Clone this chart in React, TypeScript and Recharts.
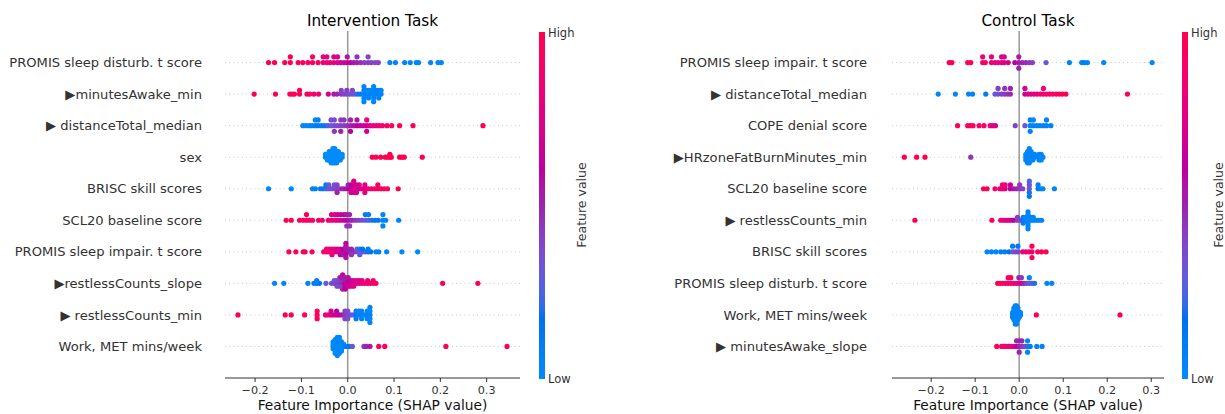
import React from 'react';
import { ScatterChart, Scatter, XAxis, YAxis, ReferenceLine } from 'recharts';

const FONT = '"DejaVu Sans", Verdana, sans-serif';

// ---------- labels ----------
const intFeatures = [
  'PROMIS sleep disturb. t score',
  '\u25B6minutesAwake_min',
  '\u25B6 distanceTotal_median',
  'sex',
  'BRISC skill scores',
  'SCL20 baseline score',
  'PROMIS sleep impair. t score',
  '\u25B6restlessCounts_slope',
  '\u25B6 restlessCounts_min',
  'Work, MET mins/week',
];
const ctlFeatures = [
  'PROMIS sleep impair. t score',
  '\u25B6 distanceTotal_median',
  'COPE denial score',
  '\u25B6HRzoneFatBurnMinutes_min',
  'SCL20 baseline score',
  '\u25B6 restlessCounts_min',
  'BRISC skill scores',
  'PROMIS sleep disturb. t score',
  'Work, MET mins/week',
  '\u25B6 minutesAwake_slope',
];
const xTicks = [-0.2, -0.1, 0, 0.1, 0.2, 0.3];
const intDomain = [-0.265, 0.372];
const ctlDomain = [-0.289, 0.329];

// ---------- data: [shap value, feature value (0 low .. 1 high), count?] ----------
const intPromisDisturb = [
  [-0.171,1],[-0.158,1],[-0.136,0.97],[-0.124,0.95],[-0.107,0.95],[-0.097,0.92],[-0.086,0.93],[-0.076,0.9],[-0.064,0.9],[-0.053,0.85],[-0.045,0.82],[-0.038,0.8],[-0.030,0.78],[-0.022,0.72],[-0.015,0.7],[-0.008,0.68],[-0.001,0.62],[0.006,0.6],[0.013,0.55],[0.020,0.52],[0.028,0.48],[0.036,0.42],[0.044,0.42],[0.051,0.4],[0.059,0.38],[0.066,0.4],[0.091,0.03],[0.103,0.03],[0.123,0.03],[0.135,0.03],[0.148,0.03],[0.153,0.02],[0.179,0.02],[0.195,0.02],[0.202,0.02],
  [-0.124,1],[-0.076,0.95],[-0.053,0.8],[-0.045,0.78],[-0.030,0.75],[-0.022,0.75],[-0.001,0.55],[0.020,0.45],[0.044,0.4],
];
const intMinutesAwakeMin = [
  [-0.202,1],[-0.156,1],[-0.125,0.97],[-0.120,0.95],[-0.115,0.95],[-0.104,0.95],[-0.088,0.9],[-0.082,0.9],[-0.073,0.88],[-0.063,0.85],[-0.042,0.7],[-0.030,0.55],[-0.023,0.5],[-0.014,0.45],[-0.008,0.4],[-0.002,0.38],[0.004,0.35],[0.010,0.35],[0.016,0.3],[0.022,0.2],[0.028,0.1],[0.035,0.05],[0.040,0.05],[0.045,0.05],[0.050,0.05],[0.056,0.05],[0.061,0.05],[0.067,0.05],[0.072,0.05],
  [-0.104,1],[-0.014,0.4],[-0.002,0.42],[0.010,0.38],
  [0.035,0.03,4],[0.045,0.05,2],[0.056,0.03,4],[0.067,0.05,2],[0.040,0.05],[0.050,0.03],[0.061,0.05],[0.072,0.05],
];
const intDistance = [
  [-0.097,0.02],[-0.090,0.03],[-0.083,0.05],[-0.077,0.05],[-0.070,0.08],[-0.064,0.1],[-0.057,0.1],[-0.050,0.12],[-0.043,0.25],[-0.036,0.3],[-0.029,0.35],[-0.022,0.38],[-0.015,0.4],[-0.008,0.42],[-0.001,0.45],[0.006,0.5],[0.013,0.55],[0.020,0.6],[0.027,0.62],[0.034,0.65],[0.041,0.7],[0.048,0.75],[0.055,0.78],[0.062,0.8],[0.068,0.82],[0.075,0.9],[0.085,0.92],[0.095,0.95],[0.112,0.97],[0.141,1],[0.292,1],
  [-0.070,0.05],[-0.064,0.08],[-0.036,0.35],[-0.029,0.38],[-0.015,0.42],[-0.008,0.45],[0.006,0.5],[0.020,0.55],[0.041,0.85],
  [-0.029,0.45],[-0.015,0.5],[0.006,0.6],[0.041,0.7],
];
const intSex = [
  [-0.048,0,2],[-0.044,0,3],[-0.040,0,4],[-0.036,0,5],[-0.032,0,6],[-0.028,0,6],[-0.024,0,5],[-0.020,0,4],[-0.016,0,3],[-0.012,0,2],
  [0.053,1],[0.061,1],[0.071,1],[0.081,1],[0.086,1],[0.091,1],[0.094,1],[0.112,1],[0.117,1],[0.122,1],[0.161,1],[0.091,1],
];
const intBrisc = [
  [-0.171,0.02],[-0.122,0.02],[-0.076,0.05],[-0.070,0.08],[-0.059,0.1],[-0.053,0.12],[-0.047,0.25],[-0.041,0.3],[-0.035,0.35],[-0.029,0.4],[-0.023,0.42],[-0.017,0.45],[-0.011,0.5],[-0.005,0.55],[0.001,0.6],[0.007,0.65],[0.013,0.7],[0.019,0.7],[0.025,0.72],[0.031,0.75],[0.037,0.78],[0.044,0.85],[0.051,0.88],[0.058,0.9],[0.065,0.9],[0.072,0.92],[0.079,0.95],[0.086,0.95],[0.109,1],
  [-0.047,0.15],[-0.041,0.3],[-0.029,0.35],[-0.023,0.4],[0.001,0.5],[0.007,0.6],[0.013,0.65],[0.019,0.7],[0.025,0.75],[0.037,0.75],[0.065,0.9],
  [-0.023,0.5],[0.007,0.7],[0.013,0.7],[0.019,0.7],[0.037,0.75],[0.013,0.75],
];
const intScl20 = [
  [-0.133,1],[-0.122,1],[-0.104,0.97],[-0.096,0.95],[-0.089,0.95],[-0.082,0.93],[-0.076,0.92],[-0.063,0.9],[-0.055,0.88],[-0.042,0.85],[-0.035,0.82],[-0.028,0.8],[-0.022,0.75],[-0.015,0.7],[-0.008,0.65],[-0.002,0.6],[0.004,0.55],[0.010,0.5],[0.017,0.45],[0.024,0.4],[0.031,0.35],[0.038,0.3],[0.045,0.25],[0.052,0.2],[0.059,0.15],[0.066,0.12],[0.076,0.05],[0.082,0.05],[0.110,0.03],
  [-0.089,1],[-0.035,0.75],[-0.028,0.72],[-0.022,0.7],[-0.015,0.65],[-0.008,0.6],[-0.002,0.55],[0.004,0.5],[0.038,0.1],[0.045,0.08],[0.076,0.05],
  [-0.002,0.45],[0.004,0.45],[0.076,0.05],
];
const intPromisImpair = [
  [-0.127,1],[-0.112,1],[-0.096,0.97],[-0.092,0.95],[-0.077,0.95],[-0.052,0.9],[-0.046,0.88],[-0.040,0.85],[-0.034,0.82],[-0.028,0.8],[-0.022,0.75],[-0.016,0.7],[-0.010,0.65],[-0.004,0.6],[0.002,0.55],[0.008,0.5],[0.014,0.45],[0.020,0.4],[0.026,0.35],[0.032,0.3],[0.038,0.25],[0.044,0.2],[0.050,0.15],[0.061,0.05],[0.067,0.05],[0.084,0.03],[0.117,0.02],[0.151,0.02],
  [-0.046,0.85],[-0.040,0.85],[-0.034,0.8],[-0.028,0.8],[-0.022,0.7],[-0.016,0.7],[-0.010,0.6],[0.002,0.5],[0.008,0.5],[0.020,0.3],[0.026,0.2],[0.032,0.15],[0.044,0.1],
  [-0.034,0.8],[-0.016,0.6],[-0.010,0.55],[0.008,0.45],[0.026,0.3],
  [-0.004,0.55],[-0.004,0.6],[-0.004,0.5],[-0.004,0.55],[-0.004,0.62],
];
const intRestlessSlope = [
  [-0.158,0.02],[-0.138,0.02],[-0.086,0.05],[-0.073,0.08],[-0.067,0.1],[-0.061,0.15],[-0.047,0.3],[-0.035,0.35],[-0.029,0.4],[-0.023,0.45],[-0.017,0.5],[-0.011,0.55],[-0.005,0.6],[0.001,0.62],[0.007,0.65],[0.013,0.7],[0.019,0.72],[0.025,0.75],[0.031,0.78],[0.037,0.8],[0.043,0.82],[0.049,0.85],[0.055,0.9],[0.061,0.95],[0.205,1],[0.281,1],
  [-0.011,0.5],[-0.011,0.6],[-0.011,0.45],[-0.011,0.55],[-0.011,0.65],
  [-0.005,0.55],[-0.005,0.65],[-0.005,0.5],[-0.005,0.6],
  [-0.017,0.45],[-0.017,0.4],[-0.017,0.55],[0.001,0.6],[0.001,0.7],[0.001,0.55],
  [-0.023,0.4],[-0.023,0.35],[0.007,0.65],[0.007,0.7],[0.013,0.7],[0.013,0.75],
  [-0.029,0.35],[0.019,0.75],[0.025,0.7],[0.031,0.8],[0.043,0.85],[0.055,0.95],[-0.067,0.08],
];
const intRestlessMin = [
  [-0.237,1],[-0.135,1],[-0.122,1],[-0.093,0.97],[-0.066,0.92],[-0.048,0.85],[-0.042,0.8],[-0.036,0.75],[-0.030,0.72],[-0.024,0.65],[-0.018,0.6],[-0.012,0.55],[-0.006,0.45],[0.000,0.4],[0.006,0.35],[0.012,0.3],[0.018,0.15],[0.024,0.1],[0.030,0.05],[0.036,0.05],[0.042,0.05],[0.048,0.05],
  [-0.066,0.95,2],[-0.036,0.7],[-0.024,0.6],[-0.006,0.4,2],[0.000,0.35,2],[0.018,0.1,2],[0.024,0.05],[0.030,0.05,2],[0.042,0.03,2],[0.048,0.03,4],
];
const intWork = [
  [-0.0315,0.02,4],[-0.027,0.02,7],[-0.0225,0.02,9],[-0.018,0.02,8],[-0.0135,0.02,5],[-0.009,0.03,2],
  [-0.004,0.08],[0.003,0.15],[0.010,0.3],[0.035,0.45],[0.040,0.5],[0.048,0.55],[0.067,0.95],[0.080,1],[0.212,1],[0.344,1],
];

const ctlPromisImpair = [
  [-0.159,1],[-0.153,1],[-0.117,0.97],[-0.110,0.95],[-0.083,0.92],[-0.077,0.9],[-0.063,0.85],[-0.055,0.82],[-0.048,0.8],[-0.040,0.78],[-0.034,0.75],[-0.025,0.72],[-0.010,0.6],[-0.001,0.55],[0.007,0.5],[0.015,0.48],[0.023,0.45],[0.030,0.42],[0.061,0.3],[0.114,0.05],[0.142,0.05],[0.148,0.1],[0.155,0.05],[0.192,0.03],[0.302,0.02],
  [-0.083,0.85],[-0.063,0.8],[-0.040,0.75],[-0.034,0.75],[-0.001,0.55],[-0.001,0.5],
];
const ctlDistance = [
  [-0.184,0.02],[-0.145,0.02],[-0.115,0.03],[-0.106,0.05],[-0.076,0.1],[-0.055,0.3],[-0.048,0.35],[-0.040,0.4],[-0.033,0.42],[-0.026,0.45],[-0.020,0.48],[0.013,0.65],[0.020,0.7],[0.027,0.75],[0.034,0.78],[0.041,0.8],[0.048,0.82],[0.055,0.85],[0.062,0.88],[0.069,0.9],[0.076,0.92],[0.084,0.95],[0.091,0.97],[0.098,1],[0.106,1],[0.246,1],
  [-0.048,0.4],[-0.033,0.45],[-0.020,0.5],[0.013,0.7],[0.055,0.85],
];
const ctlCope = [
  [-0.140,1],[-0.117,0.97],[-0.111,0.95],[-0.105,0.95],[-0.091,0.92],[-0.080,0.9],[-0.066,0.8],[-0.060,0.75],[-0.054,0.72],[-0.009,0.4],[0.013,0.3],[0.025,0.05],[0.032,0.05],[0.040,0.05],[0.047,0.05],[0.055,0.05],[0.062,0.05],[0.072,0.05],
  [0.025,0.05],[0.032,0.05],[0.062,0.05],[0.025,0.05],
];
const ctlHrZone = [
  [-0.261,1],[-0.233,1],[-0.214,1],[-0.110,0.45],
  [0.015,0.03,3],[0.019,0.03,5],[0.023,0.03,6],[0.027,0.03,4],[0.031,0.03,3],[0.035,0.03,2],[0.045,0.03,3],[0.050,0.03,3],[0.054,0.03],
];
const ctlScl20 = [
  [-0.081,1],[-0.073,0.97],[-0.055,0.9],[-0.044,0.85],[-0.038,0.8],[-0.032,0.78],[-0.020,0.6],[-0.013,0.55],[-0.006,0.5],[0.001,0.45],[0.008,0.42],[0.023,0.3],[0.043,0.1],[0.049,0.05],[0.054,0.05],[0.080,0.02],
  [-0.038,0.9],[-0.032,0.8],[-0.020,0.65],[0.001,0.45],[0.023,0.35],[0.043,0.1],[0.023,0.2],[0.023,0.25],[0.023,0.1],
];
const ctlRestlessMin = [
  [-0.237,1],[-0.062,0.95],[-0.042,0.85],[-0.036,0.8],[-0.030,0.78],[-0.024,0.75],[-0.018,0.7],[-0.012,0.6],[-0.004,0.45],[0.002,0.4],[0.009,0.2],[0.015,0.1],[0.020,0.05],[0.026,0.05],[0.032,0.05],[0.038,0.05],[0.044,0.05],[0.051,0.05],
  [0.020,0.05,6],[-0.004,0.4],[0.009,0.1,2],[0.026,0.05],[0.015,0.05],[0.032,0.05],
];
const ctlBrisc = [
  [-0.073,0.02],[-0.063,0.05],[-0.053,0.05],[-0.042,0.08],[-0.033,0.1],[-0.023,0.15],[-0.015,0.3],[-0.009,0.35],[-0.003,0.4],[0.008,0.75],[0.015,0.8],[0.022,0.85],[0.029,0.9],[0.042,0.95],[0.051,1],[0.061,1],
  [-0.015,0.1],[-0.003,0.12],[0.029,0.95],[0.029,0.95],
];
const ctlPromisDisturb = [
  [-0.049,1],[-0.043,0.97],[-0.037,0.95],[-0.031,0.93],[-0.025,0.9],[-0.019,0.88],[-0.013,0.85],[-0.007,0.82],[-0.001,0.75],[0.005,0.65],[0.011,0.5],[0.017,0.4],[0.023,0.3],[0.029,0.25],[0.035,0.2],[0.063,0.03],[0.074,0.03],
  [-0.025,0.95],[-0.019,0.9],[-0.001,0.5],[0.005,0.45],[0.023,0.05],
];
const ctlWork = [
  [-0.015,0.03,3],[-0.012,0.03,6],[-0.009,0.03,9],[-0.006,0.03,9],[-0.003,0.03,6],[0.000,0.03,3],[0.003,0.05,2],
  [0.039,1],[0.229,1],
];
const ctlMinutesAwakeSlope = [
  [-0.051,1],[-0.040,0.95],[-0.035,0.92],[-0.030,0.9],[-0.024,0.85],[-0.018,0.8],[-0.012,0.75],[-0.006,0.65],[0.000,0.5],[0.006,0.45],[0.012,0.4],[0.019,0.2],[0.025,0.1],[0.040,0.05],[0.052,0.05],
  [-0.006,0.5],[0.000,0.5],[0.006,0.5],[0.019,0.05],[0.000,0.5],[0.019,0.05],
];

const intRows = [intPromisDisturb, intMinutesAwakeMin, intDistance, intSex, intBrisc, intScl20, intPromisImpair, intRestlessSlope, intRestlessMin, intWork];
const ctlRows = [ctlPromisImpair, ctlDistance, ctlCope, ctlHrZone, ctlScl20, ctlRestlessMin, ctlBrisc, ctlPromisDisturb, ctlWork, ctlMinutesAwakeSlope];

// ---------- SHAP red_blue colormap (LCH interpolation) ----------
function lchToRgb(l: number, c: number, h: number): string {
  const a = c * Math.cos(h);
  const b = c * Math.sin(h);
  let y = (l + 16) / 116;
  let x = a / 500 + y;
  let z = y - b / 200;
  if (z < 0) z = 0;
  const f = (v: number) => (v > 0.2068966 ? v * v * v : (v - 16 / 116) / 7.787);
  x = f(x) * 0.95047; y = f(y); z = f(z) * 1.08883;
  const lin = [
    3.24048134 * x - 1.53715152 * y - 0.49853633 * z,
    -0.96925495 * x + 1.87599 * y + 0.04155593 * z,
    0.05564664 * x - 0.20404134 * y + 1.05731107 * z,
  ];
  const out = lin.map((v) => {
    const g = v > 0.0031308 ? 1.055 * Math.pow(v, 1 / 2.4) - 0.055 : 12.92 * v;
    return Math.round(Math.min(1, Math.max(0, g)) * 255);
  });
  return `rgb(${out[0]},${out[1]},${out[2]})`;
}
function shapColor(t: number): string {
  const l = t < 0.5 ? 54 + (40 - 54) * (t / 0.5) : 40 + (54 - 40) * ((t - 0.5) / 0.5);
  const c = 70 + (90 - 70) * t;
  const h = 4.6588 + (0.35470565 + 2 * Math.PI - 4.6588) * t;
  return lchToRgb(l, c, h);
}

// ---------- beeswarm layout (as in shap) ----------
function buildRow(pts: number[][], rowY: number) {
  const flat: { s: number; f: number }[] = [];
  pts.forEach((p) => {
    const n = p[2] ?? 1;
    for (let k = 0; k < n; k++) flat.push({ s: p[0], f: p[1] });
  });
  const xs = flat.map((p) => p.s);
  const mn = Math.min(...xs);
  const mx = Math.max(...xs);
  const quant = xs.map((x) => Math.round((100 * (x - mn)) / (mx - mn + 1e-8)));
  const inds = xs.map((_, i) => i).sort((a, b) => quant[a] - quant[b] || a - b);
  const ys = new Array(xs.length).fill(0);
  let layer = 0;
  let last = -1;
  for (const i of inds) {
    if (quant[i] !== last) layer = 0;
    ys[i] = Math.ceil(layer / 2) * ((layer % 2) * 2 - 1);
    layer++;
    last = quant[i];
  }
  const m = Math.max(...ys.map((y) => y + 1));
  const sc = 0.9 * (0.4 / m);
  return flat.map((p, i) => ({ x: p.s, y: rowY + ys[i] * sc, color: shapColor(p.f) }));
}

const fmtTick = (v: number) => (v < 0 ? '\u2212' + Math.abs(v).toFixed(1) : v.toFixed(1));

const Dot = (props: any) => {
  if (props.cx == null || props.cy == null) return null;
  const fill = props.payload?.color ?? props.fill;
  return <circle cx={props.cx} cy={props.cy} r={2.6} fill={fill} />;
};

function Panel(props: {
  features: string[];
  rows: number[][][];
  domain: number[];
  left: number;
  width: number;
  yAxisWidth: number;
  marginRight: number;
  tickMargin: number;
}) {
  const { features, rows, domain, left, width, yAxisWidth, marginRight, tickMargin } = props;
  const n = features.length;
  const rowTicks = features.map((_, i) => i);
  const series = rows.map((r, i) => buildRow(r, n - 1 - i));
  return (
    <div style={{ position: 'absolute', left, top: 0 }}>
      <ScatterChart width={width} height={414} margin={{ top: 31, right: marginRight, bottom: 0, left: 0 }}>
        <XAxis
          type="number"
          dataKey="x"
          domain={domain}
          ticks={xTicks}
          interval={0}
          allowDataOverflow
          tickFormatter={fmtTick}
          tick={{ fontSize: 11.2, fill: '#333', fontFamily: FONT }}
          stroke="#333"
          tickSize={4}
          tickMargin={4}
          height={36}
        />
        <YAxis
          type="number"
          dataKey="y"
          domain={[-1, n]}
          ticks={rowTicks}
          interval={0}
          allowDataOverflow
          tickFormatter={(v: number) => features[n - 1 - v]}
          axisLine={false}
          tickLine={false}
          tickSize={0}
          tickMargin={tickMargin}
          width={yAxisWidth}
          tick={{ fontSize: 13.1, fill: '#333', fontFamily: FONT }}
        />
        {rowTicks.map((t) => (
          <ReferenceLine key={'r' + t} y={t} stroke="#c8c8c8" strokeWidth={1} strokeDasharray="1 3.2" />
        ))}
        <ReferenceLine x={0} stroke="#999" strokeWidth={1.5} />
        {series.map((d, i) => (
          <Scatter key={i} data={d} isAnimationActive={false} shape={Dot} />
        ))}
      </ScatterChart>
    </div>
  );
}

const gradStops = Array.from({ length: 41 }, (_, i) => i / 40);

function Overlay() {
  const bars = [
    { id: 'cbL', x: 539, labelX: 581, cx: 372.5, title: 'Intervention Task' },
    { id: 'cbR', x: 1182, labelX: 1218, cx: 1028, title: 'Control Task' },
  ];
  return (
    <svg width={1225} height={414} style={{ position: 'absolute', left: 0, top: 0, pointerEvents: 'none' }}>
      <defs>
        <linearGradient id="shapGrad" x1="0" y1="1" x2="0" y2="0">
          {gradStops.map((t) => (
            <stop key={t} offset={t} stopColor={shapColor(t)} />
          ))}
        </linearGradient>
      </defs>
      {bars.map((b) => (
        <g key={b.id} fontFamily={FONT}>
          <text x={b.cx} y={26} fontSize={15.3} textAnchor="middle" fill="#000">{b.title}</text>
          <text x={b.cx} y={410} fontSize={13.8} textAnchor="middle" fill="#111">Feature Importance (SHAP value)</text>
          <rect x={b.x} y={32} width={6} height={347} fill="url(#shapGrad)" />
          <text x={b.x + 9} y={37} fontSize={11.5} fill="#333">High</text>
          <text x={b.x + 9} y={383} fontSize={11.5} fill="#333">Low</text>
          <text
            x={b.labelX}
            y={205}
            fontSize={12.5}
            fill="#333"
            textAnchor="middle"
            dominantBaseline="central"
            transform={`rotate(-90 ${b.labelX} 205)`}
          >
            Feature value
          </text>
        </g>
      ))}
    </svg>
  );
}

export default function App() {
  return (
    <div style={{ position: 'absolute', left: 0, top: 0, width: 1225, height: 414, background: '#fff', overflow: 'hidden' }}>
      <Panel features={intFeatures} rows={intRows} domain={intDomain} left={0} width={612} yAxisWidth={225} marginRight={92} tickMargin={23} />
      <Panel features={ctlFeatures} rows={ctlRows} domain={ctlDomain} left={612} width={613} yAxisWidth={280} marginRight={61} tickMargin={25} />
      <Overlay />
    </div>
  );
}
